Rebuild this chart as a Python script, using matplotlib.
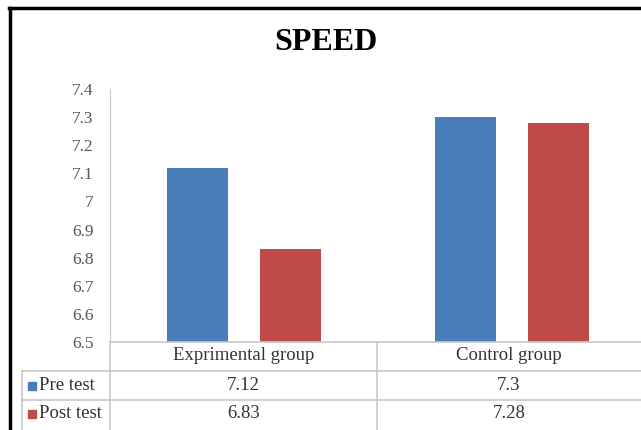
import matplotlib.pyplot as plt
from matplotlib.patches import Rectangle
import numpy as np

groups = ['Exprimental group', 'Control group']
series = ['Pre test', 'Post test']
pre_test = [7.12, 7.3]
post_test = [6.83, 7.28]
yticks = [6.5, 6.6, 6.7, 6.8, 6.9, 7, 7.1, 7.2, 7.3, 7.4]

colors = ['#4a7ebb', '#be4b48']
grid_col = '#c8c8c8'
serif = 'Liberation Serif'
txt_col = '#333333'

W, H = 641, 430
fig = plt.figure(figsize=(W / 100, H / 100), dpi=100)

# axes placed in pixel terms
left, right, top, bottom = 110, 641, 89, 342
ax = fig.add_axes([left / W, 1 - bottom / H, (right - left) / W, (bottom - top) / H])
ax.set_ylim(6.5, 7.4)
ax.set_xlim(-0.5, 1.5 - 5 / 268)

x = np.arange(len(groups))
w = 0.227
off = 0.173
ax.bar(x - off, [v - 6.5 for v in pre_test], w, bottom=6.5, color=colors[0])
ax.bar(x + off, [v - 6.5 for v in post_test], w, bottom=6.5, color=colors[1])

ax.set_yticks(yticks)
ax.set_yticklabels([f'{t:g}' for t in yticks], fontfamily=serif, fontsize=12.5, color='#555555')
ax.set_xticks([])
ax.tick_params(axis='y', length=0, pad=12)
for s in ['top', 'right', 'bottom']:
    ax.spines[s].set_visible(False)
ax.spines['left'].set_color(grid_col)

# title
fig.text(326 / W, 1 - 43 / H, 'SPEED', ha='center', va='center',
         fontfamily=serif, fontweight='bold', fontsize=23)

# data table under the axis
def fx(px):
    return px / W

def fy(py):
    return 1 - py / H

row_y = [342, 371, 400, 430]
col_x = [22, 110, 377, 641]
lw = 1.2
fig.add_artist(plt.Line2D([fx(110), fx(641)], [fy(342), fy(342)], color=grid_col, lw=lw))
for yy in row_y[1:3]:
    fig.add_artist(plt.Line2D([fx(22), fx(641)], [fy(yy), fy(yy)], color=grid_col, lw=lw))
fig.add_artist(plt.Line2D([fx(22), fx(22)], [fy(371), fy(430)], color=grid_col, lw=lw))
for xx in col_x[1:3]:
    fig.add_artist(plt.Line2D([fx(xx), fx(xx)], [fy(342), fy(430)], color=grid_col, lw=lw))

fs = 13.5
centers = [(110 + 377) / 2, (377 + 641) / 2]
for i, g in enumerate(groups):
    fig.text(fx(centers[i]), fy(356), g, ha='center', va='center',
             fontfamily=serif, fontsize=fs, color=txt_col)
    fig.text(fx(centers[i]), fy(385), f'{pre_test[i]:g}', ha='center', va='center',
             fontfamily=serif, fontsize=fs, color=txt_col)
    fig.text(fx(centers[i]), fy(413), f'{post_test[i]:g}', ha='center', va='center',
             fontfamily=serif, fontsize=fs, color=txt_col)

for j, name in enumerate(series):
    yy = 385 + 28 * j
    fig.add_artist(Rectangle((fx(28), fy(yy + 5)), 8 / W, 8 / H, color=colors[j]))
    fig.text(fx(39), fy(yy), name, ha='left', va='center',
             fontfamily=serif, fontsize=fs, color=txt_col)

# black frame on top and left
fig.add_artist(plt.Line2D([fx(9), fx(641)], [fy(8), fy(8)], color='black', lw=2.5))
fig.add_artist(plt.Line2D([fx(9.5), fx(9.5)], [fy(8), fy(430)], color='black', lw=2.5))

fig.savefig('out.png', dpi=100)
